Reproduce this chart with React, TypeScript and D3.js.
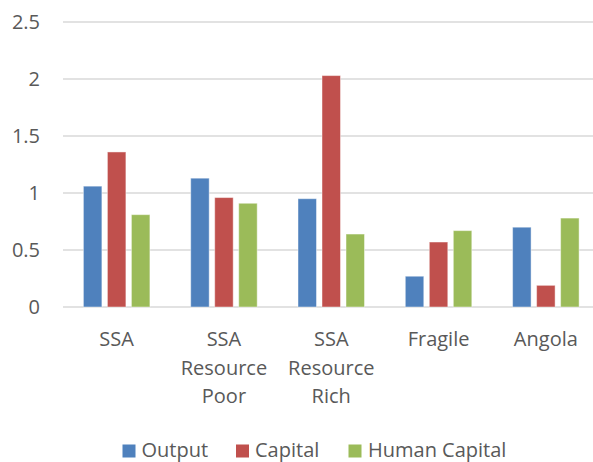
import React from "react";
import * as d3 from "d3";

const categories: string[][] = [
  ["SSA"],
  ["SSA", "Resource", "Poor"],
  ["SSA", "Resource", "Rich"],
  ["Fragile"],
  ["Angola"],
];
const seriesNames = ["Output", "Capital", "Human Capital"];
const seriesColors = ["#4F81BD", "#C0504D", "#9BBB59"];
const outputValues = [1.06, 1.13, 0.95, 0.27, 0.70];
const capitalValues = [1.36, 0.96, 2.03, 0.57, 0.19];
const humanCapitalValues = [0.81, 0.91, 0.64, 0.67, 0.78];
const yTicks = [0, 0.5, 1, 1.5, 2, 2.5];

const W = 593;
const H = 462;

export default function App() {
  const seriesValues = [outputValues, capitalValues, humanCapitalValues];
  const catKeys = categories.map((c) => c.join(" "));
  const x = d3.scaleBand<string>().domain(catKeys).range([63, 599.5]).padding(0);
  const bw = x.bandwidth();
  const groupW = 66.5;
  const xs = d3
    .scaleBand<string>()
    .domain(seriesNames)
    .range([(bw - groupW) / 2, (bw + groupW) / 2])
    .paddingInner(0.23)
    .paddingOuter(0);
  const y = d3.scaleLinear().domain([0, 2.5]).range([307, 22]);
  const font = "'Open Sans', sans-serif";
  const textColor = "#595959";

  const legendItems = [
    { sq: 122.5, tx: 141.5 },
    { sq: 236, tx: 255 },
    { sq: 348.5, tx: 368 },
  ];

  return (
    <svg
      width={W}
      height={H}
      style={{ position: "absolute", left: 0, top: 0, background: "#fff" }}
      fontFamily={font}
    >
      {yTicks.map((t) => (
        <g key={t}>
          <line x1={63} x2={W} y1={y(t)} y2={y(t)} stroke="#D9D9D9" strokeWidth={1.3} />
          <text
            x={40}
            y={y(t)}
            dy="0.35em"
            textAnchor="end"
            fontSize={20}
            fill={textColor}
          >
            {t}
          </text>
        </g>
      ))}
      {catKeys.map((k, i) => (
        <g key={k} transform={`translate(${x(k)},0)`}>
          {seriesNames.map((s, j) => {
            const v = seriesValues[j][i];
            return (
              <rect
                key={s}
                x={xs(s)}
                width={xs.bandwidth()}
                y={y(v)}
                height={y(0) - y(v)}
                fill={seriesColors[j]}
                stroke="#fff"
                strokeOpacity={0.45}
                strokeWidth={1}
              />
            );
          })}
          <text textAnchor="middle" fontSize={20} fill={textColor}>
            {categories[i].map((line, li) => (
              <tspan key={li} x={bw / 2} y={346 + li * 28.5}>
                {line}
              </tspan>
            ))}
          </text>
        </g>
      ))}
      {seriesNames.map((s, j) => (
        <g key={s}>
          <rect x={legendItems[j].sq} y={444.5} width={13} height={13} fill={seriesColors[j]} />
          <text x={legendItems[j].tx} y={457} fontSize={20} fill={textColor}>
            {s}
          </text>
        </g>
      ))}
    </svg>
  );
}
